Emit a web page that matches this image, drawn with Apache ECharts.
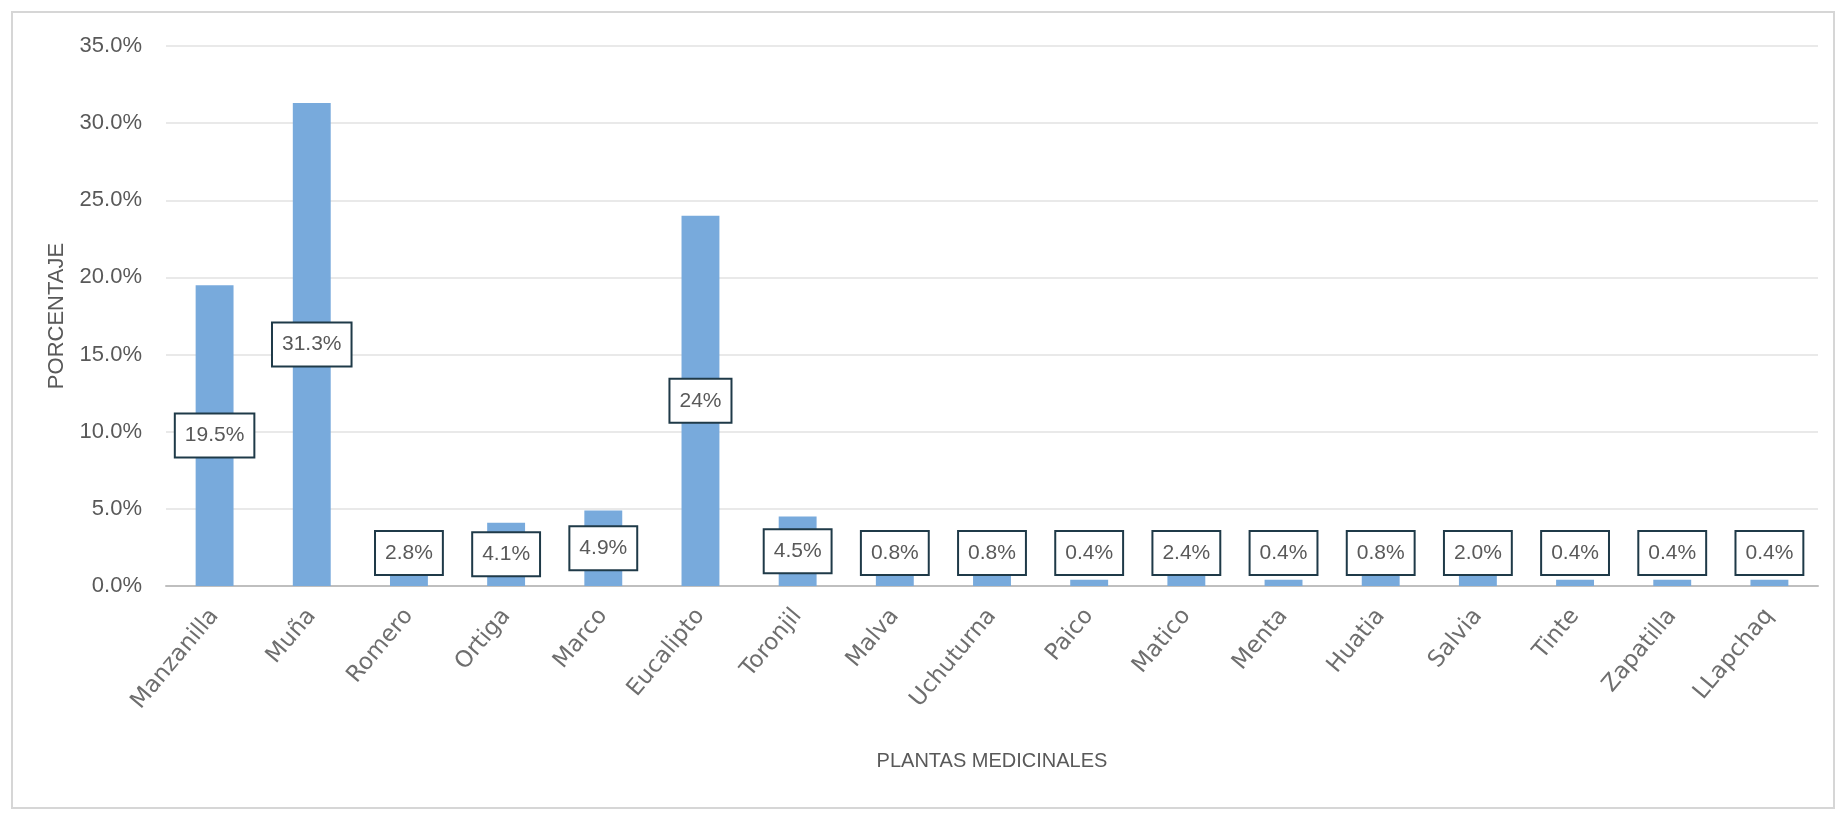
<!DOCTYPE html>
<html>
<head>
<meta charset="utf-8">
<script src="https://cdn.jsdelivr.net/npm/echarts@6/dist/echarts.min.js"></script>
<style>
  html, body { margin: 0; padding: 0; background: #fff; }
  #chartBox { width: 1836px; height: 815px; }
</style>
</head>
<body>
<div id="chartBox"></div>
<script>
// categorias (plantas)
var plantas = ["Manzanilla", "Muña", "Romero", "Ortiga", "Marco", "Eucalipto", "Toronjil", "Malva",
  "Uchuturna", "Paico", "Matico", "Menta", "Huatia", "Salvia", "Tinte", "Zapatilla", "LLapchaq"];
// porcentaje de cada planta
var porcentajes = [19.5, 31.3, 2.8, 4.1, 4.9, 24, 4.5, 0.8, 0.8, 0.4, 2.4, 0.4, 0.8, 2.0, 0.4, 0.4, 0.4];
// textos de las etiquetas tal como aparecen
var etiquetas = ["19.5%", "31.3%", "2.8%", "4.1%", "4.9%", "24%", "4.5%", "0.8%", "0.8%", "0.4%",
  "2.4%", "0.4%", "0.8%", "2.0%", "0.4%", "0.4%", "0.4%"];
// marcas del eje Y
var ejeMin = 0, ejeMax = 35, ejePaso = 5;

var gris = "#595959";
var fuente = "Liberation Sans, Arial, sans-serif";

var datos = porcentajes.map(function (v, i) {
  return {
    value: v,
    label: {
      position: v >= 4 ? "inside" : "insideBottom",
      distance: 12,
      formatter: etiquetas[i]
    }
  };
});

var myChart = echarts.init(document.getElementById("chartBox"));
var option = {
  animation: false,
  backgroundColor: "#fff",
  graphic: [{
    type: "rect",
    shape: { x: 12, y: 12, width: 1822, height: 796 },
    style: { fill: "none", stroke: "#d6d6d6", lineWidth: 2 },
    silent: true
  }],
  grid: { left: 166, right: 18, top: 46, bottom: 229 },
  xAxis: {
    type: "category",
    data: plantas,
    name: "PLANTAS MEDICINALES",
    nameLocation: "middle",
    nameGap: 165,
    nameTextStyle: { color: gris, fontSize: 20, fontFamily: fuente },
    axisLine: { lineStyle: { color: "#bfbfbf", width: 2 } },
    axisTick: { show: false },
    axisLabel: {
      rotate: 50,
      margin: 26,
      color: "#6e6e6e",
      fontSize: 23,
      fontFamily: "DejaVu Sans, sans-serif",
      interval: 0
    }
  },
  yAxis: {
    type: "value",
    min: ejeMin,
    max: ejeMax,
    interval: ejePaso,
    name: "PORCENTAJE",
    nameLocation: "middle",
    nameRotate: 90,
    nameGap: 98,
    nameTextStyle: { color: gris, fontSize: 22, fontFamily: fuente },
    axisLine: { show: false },
    axisTick: { show: false },
    splitLine: { lineStyle: { color: "#e9e9e9", width: 2 } },
    axisLabel: {
      margin: 24,
      color: gris,
      fontSize: 22,
      fontFamily: fuente,
      formatter: function (v) { return v.toFixed(1) + "%"; }
    }
  },
  series: [{
    type: "bar",
    data: datos,
    barWidth: "39%",
    itemStyle: { color: "#78aadc" },
    label: {
      show: true,
      color: gris,
      fontSize: 21,
      fontFamily: fuente,
      lineHeight: 22,
      backgroundColor: "#fff",
      borderColor: "#1f3a48",
      borderWidth: 2,
      padding: [10, 9]
    }
  }]
};
myChart.setOption(option);
</script>
</body>
</html>
